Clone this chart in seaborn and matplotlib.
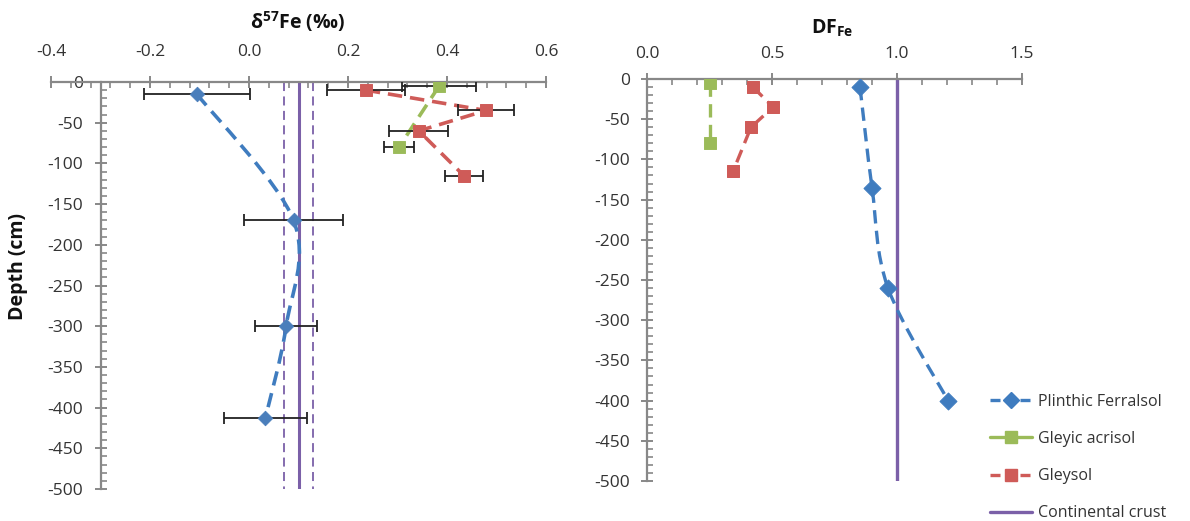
import numpy as np
import pandas as pd
import matplotlib
matplotlib.use("Agg")
import matplotlib.pyplot as plt
import seaborn as sns
from matplotlib.path import Path
from matplotlib.patches import PathPatch
from matplotlib.lines import Line2D
from matplotlib.ticker import MultipleLocator, FormatStrFormatter

# =====================
# DATA
# =====================

# delta57Fe panel
ferr_d57 = [-0.105, 0.090, 0.075, 0.033]
ferr_d57_err = [0.107, 0.100, 0.062, 0.084]
ferr_d57_depth = [-15, -170, -300, -413]

acri_d57 = [0.384, 0.303]
acri_d57_err = [0.075, 0.031]
acri_d57_depth = [-5, -80]

gley_d57 = [0.236, 0.479, 0.343, 0.434]
gley_d57_err = [0.079, 0.056, 0.060, 0.039]
gley_d57_depth = [-10, -35, -60, -115]

crust_d57 = 0.10
crust_d57_band = [0.07, 0.13]

# DF_Fe panel
ferr_df = [0.852, 0.900, 0.964, 1.204]
ferr_df_depth = [-10, -135, -260, -400]

acri_df = [0.252, 0.252]
acri_df_depth = [-5, -80]

gley_df = [0.424, 0.504, 0.416, 0.344]
gley_df_depth = [-10, -35, -60, -115]

crust_df = 1.0

series_names = ["Plinthic Ferralsol", "Gleyic acrisol", "Gleysol", "Continental crust"]

# =====================
# STYLE
# =====================

sns.set_style("white")
plt.rcParams["font.family"] = ["Open Sans", "DejaVu Sans"]
plt.rcParams["axes.unicode_minus"] = False
plt.rcParams["mathtext.fontset"] = "custom"
plt.rcParams["mathtext.rm"] = "Open Sans"
plt.rcParams["mathtext.bf"] = "Open Sans:bold"

BLUE = "#3f7cbf"
BLUE_MK = "#4a7ebb"
GREEN = "#9bbb59"
RED = "#cf5b58"
PURPLE = "#7b60a8"
AXIS = "#888888"
TXT = "#333333"
DASH = (0, (4, 2.2))


def smooth_path(xs, ys):
    # Catmull-Rom style bezier, like a spreadsheet "smoothed line"
    pts = np.column_stack([xs, ys]).astype(float)
    n = len(pts)
    verts = [pts[0]]
    codes = [Path.MOVETO]
    for i in range(n - 1):
        p0 = pts[i - 1] if i > 0 else pts[i]
        p1 = pts[i]
        p2 = pts[i + 1]
        p3 = pts[i + 2] if i + 2 < n else pts[i + 1]
        c1 = p1 + (p2 - p0) / 6.0
        c2 = p2 - (p3 - p1) / 6.0
        verts += [c1, c2, p2]
        codes += [Path.CURVE4] * 3
    return Path(verts, codes)


def style_axis(ax, xlim, xmaj, xmin, xpad):
    ax.set_xlim(*xlim)
    ax.set_ylim(-500, 0)
    ax.xaxis.tick_top()
    ax.xaxis.set_label_position("top")
    for s in ["bottom", "right"]:
        ax.spines[s].set_visible(False)
    for s in ["top", "left"]:
        ax.spines[s].set_color(AXIS)
        ax.spines[s].set_linewidth(1.6)
    ax.xaxis.set_major_locator(MultipleLocator(xmaj))
    ax.xaxis.set_minor_locator(MultipleLocator(xmin))
    ax.xaxis.set_major_formatter(FormatStrFormatter("%.1f"))
    ax.yaxis.set_major_locator(MultipleLocator(50))
    ax.yaxis.set_minor_locator(MultipleLocator(10))
    ax.yaxis.set_major_formatter(FormatStrFormatter("%d"))
    ax.tick_params(which="major", direction="inout", length=9, width=1.4,
                   color=AXIS, labelsize=12.5, labelcolor=TXT)
    ax.tick_params(which="minor", direction="in", length=4, width=1.2, color=AXIS)
    ax.tick_params(axis="x", which="both", top=True, bottom=False, pad=xpad)
    ax.tick_params(axis="y", which="both", left=True, right=False, pad=8)
    ax.set_xlabel("")
    ax.set_ylabel("")
    ax.patch.set_alpha(0)


def dashed_line(ax, xs, ys, color, lw):
    sns.lineplot(x=xs, y=ys, sort=False, estimator=None, errorbar=None,
                 ax=ax, color=color, lw=lw, linestyle=DASH, zorder=3)


fig = plt.figure(figsize=(11.9, 5.21), dpi=100)

ax1 = fig.add_axes([51 / 1190, (521 - 489) / 521, 495 / 1190, 407 / 521])
ax2 = fig.add_axes([647 / 1190, (521 - 481) / 521, 375 / 1190, 402 / 521])

# =====================
# LEFT PANEL
# =====================

style_axis(ax1, (-0.4, 0.6), 0.2, 0.04, 11)
ax1.spines["left"].set_position(("data", -0.3))

for xv, ls, lw in [(crust_d57_band[0], (0, (5, 3)), 1.3),
                   (crust_d57_band[1], (0, (5, 3)), 1.3),
                   (crust_d57, "-", 2.2)]:
    ax1.plot([xv, xv], [0, -500], color=PURPLE, lw=lw, ls=ls, zorder=2)

ax1.add_patch(PathPatch(smooth_path(ferr_d57, ferr_d57_depth), fill=False,
                        edgecolor=BLUE, lw=2.6, ls=DASH, zorder=3))
dashed_line(ax1, gley_d57, gley_d57_depth, RED, 2.6)
dashed_line(ax1, acri_d57, acri_d57_depth, GREEN, 2.6)

for xs, es, ds in [(ferr_d57, ferr_d57_err, ferr_d57_depth),
                   (acri_d57, acri_d57_err, acri_d57_depth),
                   (gley_d57, gley_d57_err, gley_d57_depth)]:
    ax1.errorbar(xs, ds, xerr=es, fmt="none", ecolor="#222222", elinewidth=1.3,
                 capsize=4, capthick=1.3, zorder=4)

sns.scatterplot(x=ferr_d57, y=ferr_d57_depth, ax=ax1, marker="D", s=55,
                color=BLUE_MK, edgecolor=BLUE_MK, zorder=5)
sns.scatterplot(x=acri_d57, y=acri_d57_depth, ax=ax1, marker="s", s=65,
                color=GREEN, edgecolor=GREEN, zorder=5)
sns.scatterplot(x=gley_d57, y=gley_d57_depth, ax=ax1, marker="s", s=75,
                color=RED, edgecolor=RED, zorder=5)

# =====================
# RIGHT PANEL
# =====================

style_axis(ax2, (0, 1.5), 0.5, 0.1, 8)

ax2.plot([crust_df, crust_df], [0, -500], color=PURPLE, lw=2.4, zorder=2)

ax2.add_patch(PathPatch(smooth_path(ferr_df, ferr_df_depth), fill=False,
                        edgecolor=BLUE, lw=2.4, ls=DASH, zorder=3))
dashed_line(ax2, gley_df, gley_df_depth, RED, 2.4)
dashed_line(ax2, acri_df, acri_df_depth, GREEN, 2.4)

sns.scatterplot(x=ferr_df, y=ferr_df_depth, ax=ax2, marker="D", s=75,
                color=BLUE, edgecolor=BLUE, zorder=5)
sns.scatterplot(x=acri_df, y=acri_df_depth, ax=ax2, marker="s", s=70,
                color=GREEN, edgecolor=GREEN, zorder=5)
sns.scatterplot(x=gley_df, y=gley_df_depth, ax=ax2, marker="s", s=80,
                color=RED, edgecolor=RED, zorder=5)

# =====================
# TITLES / LEGEND
# =====================

fig.text(298 / 1190, 1 - 22 / 521, r"δ$^{\mathbf{57}}$Fe (‰)", fontsize=14,
         fontweight="bold", color="#111111", ha="center", va="center")
fig.text(832 / 1190, 1 - 28 / 521, r"DF$_{\mathbf{Fe}}$", fontsize=14,
         fontweight="bold", color="#111111", ha="center", va="center")
fig.text(18 / 1190, 1 - 267 / 521, "Depth (cm)", rotation=90, fontsize=14,
         fontweight="bold", color="#111111", ha="center", va="center")

handles = [
    Line2D([], [], color=BLUE, lw=2.4, ls=(0, (3, 1.5)), marker="D", ms=8),
    Line2D([], [], color=GREEN, lw=2.4, marker="s", ms=8),
    Line2D([], [], color=RED, lw=2.4, ls=(0, (3, 1.5)), marker="s", ms=8),
    Line2D([], [], color=PURPLE, lw=2.4),
]
fig.legend(handles, series_names, loc="lower left",
           bbox_to_anchor=(982 / 1190, -0.016), frameon=False, fontsize=11.5,
           handlelength=2.6, handletextpad=0.4, labelspacing=1.33,
           borderpad=0.0, labelcolor=TXT)

plt.savefig("out.png", dpi=100)
